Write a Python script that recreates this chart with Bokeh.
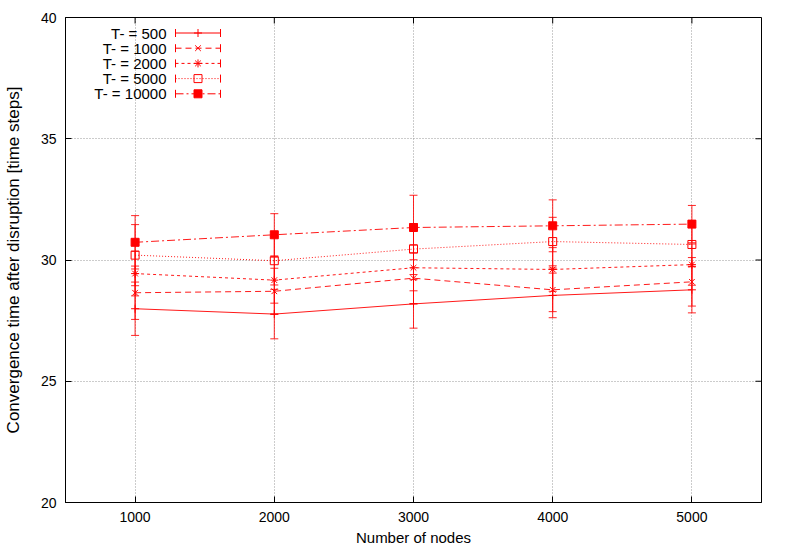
from bokeh.plotting import figure
from bokeh.models import Range1d, FixedTicker, ColumnDataSource, Whisker, TeeHead
from bokeh.embed import file_html
from bokeh.resources import INLINE
from bokeh.core.properties import value

# ---------------- data ----------------
nodes = [1000, 2000, 3000, 4000, 5000]
series_labels = ["T- = 500", "T- = 1000", "T- = 2000", "T- = 5000", "T- = 10000"]
t500 = [27.99, 27.77, 28.19, 28.54, 28.77]
t1000 = [28.65, 28.71, 29.25, 28.77, 29.10]
t2000 = [29.44, 29.17, 29.68, 29.61, 29.81]
t5000 = [30.20, 29.97, 30.45, 30.76, 30.64]
t10000 = [30.73, 31.04, 31.34, 31.41, 31.48]
err500 = [1.10, 1.02, 1.00, 0.92, 0.95]
err1000 = [1.10, 0.95, 1.05, 0.90, 1.00]
err2000 = [0.92, 0.95, 0.95, 0.90, 0.85]
err5000 = [1.26, 1.00, 1.05, 1.00, 0.90]
err10000 = [1.10, 0.87, 1.33, 1.07, 0.77]
x_ticks = [1000, 2000, 3000, 4000, 5000]
y_ticks = [20, 25, 30, 35, 40]

series = [t500, t1000, t2000, t5000, t10000]
errors = [err500, err1000, err2000, err5000, err10000]

# ---------------- styles ----------------
RED = "#ff0000"
FONT = "Liberation Sans"
dashes = ["solid", "6 4", "3 3", "1 2", "8 3 2 3"]
markers = ["cross", "x", "asterisk", "square", "square"]
fills = [RED, RED, RED, None, RED]

X0, X1, Y0, Y1 = 500, 5500, 20, 40
FW, FH = 696, 485  # frame size in pixels

p = figure(width=773, height=548, output_backend="svg", toolbar_location=None,
           x_range=Range1d(X0, X1), y_range=Range1d(Y0, Y1),
           min_border_left=62, min_border_right=12, min_border_top=17, min_border_bottom=46,
           background_fill_color="white", border_fill_color="white")
p.outline_line_color = "black"
p.outline_line_width = 1

for ax, tk in ((p.xaxis[0], x_ticks), (p.yaxis[0], y_ticks)):
    ax.ticker = FixedTicker(ticks=tk)
    ax.major_tick_in = 6
    ax.major_tick_out = 0
    ax.minor_tick_line_color = None
    ax.axis_line_color = "black"
    ax.major_tick_line_color = "black"
    ax.major_label_text_font = FONT
    ax.major_label_text_font_size = "14px"
    ax.major_label_text_color = "black"
    ax.axis_label_text_font = FONT
    ax.axis_label_text_font_style = "normal"
    ax.axis_label_text_color = "black"

p.xaxis.axis_label = "Number of nodes"
p.yaxis.axis_label = "Convergence time after disruption [time steps]"
p.xaxis.axis_label_text_font_size = "15px"
p.yaxis.axis_label_text_font_size = "17px"
p.xaxis.major_label_standoff = 9
p.xaxis.axis_label_standoff = 4
p.yaxis.major_label_standoff = 9
p.yaxis.axis_label_standoff = 15

p.xgrid.ticker = FixedTicker(ticks=x_ticks)
p.ygrid.ticker = FixedTicker(ticks=y_ticks)
for g in (p.xgrid[0], p.ygrid[0]):
    g.grid_line_color = "#999999"
    g.grid_line_dash = "1 2"
    g.grid_line_width = 1

# mirrored inward ticks on the top and right edges of the frame
tick_y = 6 / FH * (Y1 - Y0)
tick_x = 6 / FW * (X1 - X0)
p.segment(x0=x_ticks, y0=[Y1] * len(x_ticks), x1=x_ticks, y1=[Y1 - tick_y] * len(x_ticks),
          line_color="black", line_width=1)
p.segment(x0=[X1] * len(y_ticks), y0=y_ticks, x1=[X1 - tick_x] * len(y_ticks), y1=y_ticks,
          line_color="black", line_width=1)

# ---------------- series ----------------
for vals, errs, dash, mk, fc in zip(series, errors, dashes, markers, fills):
    src = ColumnDataSource(dict(x=nodes, y=vals,
                                lo=[v - e for v, e in zip(vals, errs)],
                                hi=[v + e for v, e in zip(vals, errs)]))
    p.add_layout(Whisker(source=src, base="x", lower="lo", upper="hi", dimension="height",
                         line_color=RED, line_width=1, line_alpha=0.85,
                         upper_head=TeeHead(size=8, line_color=RED, line_width=1, line_alpha=0.85),
                         lower_head=TeeHead(size=8, line_color=RED, line_width=1, line_alpha=0.85)))
    p.line("x", "y", source=src, line_color=RED, line_width=1, line_dash=dash, line_alpha=0.9)
    p.scatter("x", "y", source=src, marker=mk, size=8, line_color=RED,
              fill_color=fc, line_width=1)

# ---------------- legend (gnuplot style: text left, sample right) ----------------
FL, FT = 66, 18  # frame top-left in page pixels


def dx(px):
    return X0 + (px - FL) / FW * (X1 - X0)


def dy(py):
    return Y1 - (py - FT) / FH * (Y1 - Y0)


cap = 4 / FH * (Y1 - Y0)
for i, (lab, dash, mk, fc) in enumerate(zip(series_labels, dashes, markers, fills)):
    py = 33.5 + 15.2 * i
    yy = dy(py)
    p.text(x=[dx(167)], y=[yy], text=[lab], text_align="right", text_baseline="middle",
           text_font=value(FONT), text_font_size="15px", text_color="black")
    p.line(x=[dx(176), dx(221)], y=[yy, yy], line_color=RED, line_width=1, line_dash=dash)
    p.segment(x0=[dx(176), dx(221)], y0=[yy - cap, yy - cap],
              x1=[dx(176), dx(221)], y1=[yy + cap, yy + cap], line_color=RED, line_width=1)
    p.scatter(x=[dx(198.5)], y=[yy], marker=mk, size=8, line_color=RED,
              fill_color=fc, line_width=1)

open("out.html", "w").write(file_html(p, INLINE))
